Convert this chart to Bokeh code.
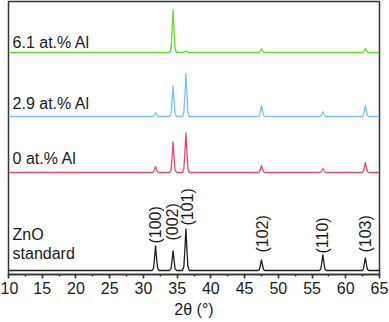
import numpy as np
from bokeh.plotting import figure
from bokeh.models import Range1d, ColumnDataSource, SingleIntervalTicker
from bokeh.core.properties import value
from bokeh.embed import file_html
from bokeh.resources import INLINE

# ---- data ----
peak_positions = [31.8, 34.4, 36.3, 47.5, 56.6, 62.9]
hkl_labels = ["(100)", "(002)", "(101)", "(102)", "(110)", "(103)"]
hkl_label_x = [31.75, 34.3, 36.5, 47.65, 56.55, 62.95]
hkl_label_y = [31, 34, 49, 22, 21, 22]

standard_heights = [25, 20, 42, 11, 16, 13]
al0_heights = [6, 31, 40, 7, 4, 10]
al29_heights = [4, 31, 43, 11, 5, 11]
al61_heights = [0, 43, 1.5, 4, 0, 4]

trace_offsets = [4, 102, 158, 222]
trace_names = ["ZnO\nstandard", "0 at.% Al", "2.9 at.% Al", "6.1 at.% Al"]
trace_colors = ["#1e1e1e", "#f0486a", "#7cc3f2", "#62dc2c"]
name_y = [40, 116, 171, 232]

x_start, x_end = 10, 65

# peak profile template (offset in degrees, fraction of height)
profile_dx = [-0.5, -0.3, -0.15, 0.0, 0.15, 0.3, 0.5]
profile_frac = [0.0, 0.1, 0.5, 1.0, 0.5, 0.1, 0.0]


def build_trace(heights, offset):
    xs = [x_start]
    ys = [offset]
    for pos, h in zip(peak_positions, heights):
        if h <= 0:
            continue
        for dx, f in zip(profile_dx, profile_frac):
            xs.append(pos + dx)
            ys.append(offset + h * f)
    xs.append(x_end)
    ys.append(offset)
    return xs, ys


p = figure(frame_width=371, frame_height=273, output_backend="svg", toolbar_location=None,
           x_range=Range1d(x_start, x_end), y_range=Range1d(0, 273),
           min_border_left=8, min_border_right=10, min_border_top=1,
           min_border_bottom=0)

p.outline_line_color = "#333333"
p.outline_line_width = 1.5
p.xgrid.visible = False
p.ygrid.visible = False
p.yaxis.visible = False

all_heights = [standard_heights, al0_heights, al29_heights, al61_heights]
for heights, off, col in zip(all_heights, trace_offsets, trace_colors):
    xs, ys = build_trace(heights, off)
    p.line(xs, ys, line_color=col, line_width=1.3)

# sample names
for name, y in zip(trace_names, name_y):
    lines = name.split("\n")
    ys = [y - 19 * i for i in range(len(lines))]
    p.text([10.6] * len(lines), ys, text=lines, text_font=value("Liberation Sans"),
           text_font_size="16px", text_baseline="middle", text_align="left",
           text_color="#1a1a1a")

# hkl labels
src = ColumnDataSource(dict(x=hkl_label_x, y=hkl_label_y, t=hkl_labels))
p.text(x="x", y="y", text="t", source=src, angle=np.pi / 2,
       text_font=value("Liberation Sans"), text_font_size="16px",
       text_baseline="middle", text_align="left", text_color="#1a1a1a")

ax = p.xaxis[0]
ax.ticker = SingleIntervalTicker(interval=5, num_minor_ticks=2)
ax.axis_label = "2θ (°)"
ax.axis_label_text_font = "Liberation Sans"
ax.axis_label_text_font_style = "normal"
ax.axis_label_text_font_size = "16px"
ax.axis_label_standoff = 4
ax.major_label_text_font = "Liberation Sans"
ax.major_label_text_font_size = "16px"
ax.major_label_standoff = 3
ax.major_tick_in = 0
ax.major_tick_out = 4
ax.minor_tick_in = 0
ax.minor_tick_out = 2
ax.axis_line_color = "#333333"
ax.axis_line_width = 1.5
ax.major_tick_line_color = "#333333"
ax.major_tick_line_width = 1.5
ax.minor_tick_line_color = "#333333"
ax.minor_tick_line_width = 1.5
ax.major_label_text_color = "#1a1a1a"
ax.axis_label_text_color = "#1a1a1a"

open("out.html", "w").write(file_html(p, INLINE))
